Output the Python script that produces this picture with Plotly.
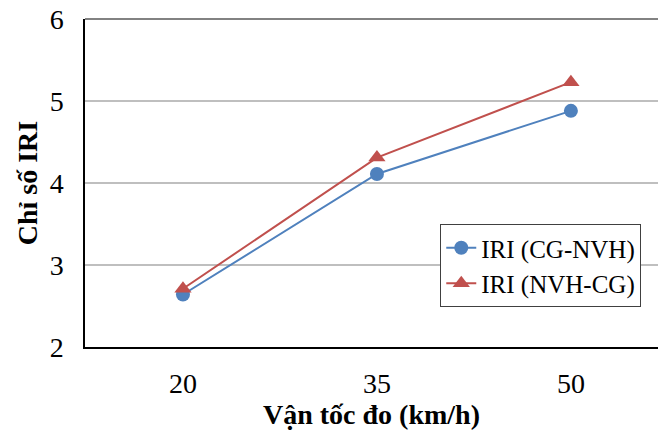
import plotly.graph_objects as go

categories = ["20", "35", "50"]
iri_cg_nvh = [2.64, 4.11, 4.88]
iri_nvh_cg = [2.71, 4.31, 5.23]
y_ticks = [2, 3, 4, 5, 6]

xs = list(range(len(categories)))
FONT = "Liberation Serif"

fig = go.Figure()
fig.add_trace(go.Scatter(
    x=xs, y=iri_cg_nvh, mode="lines+markers", name="IRI (CG-NVH)",
    line=dict(color="#4F81BD", width=2),
    marker=dict(symbol="circle", size=14, color="#4F81BD"),
))
fig.add_trace(go.Scatter(
    x=xs, y=iri_nvh_cg, mode="lines+markers", name="IRI (NVH-CG)",
    line=dict(color="#C0504D", width=2),
    marker=dict(symbol="triangle-up", size=15, color="#C0504D"),
))

fig.update_layout(
    width=658, height=433,
    margin=dict(l=85, r=0, t=19, b=86),
    plot_bgcolor="white", paper_bgcolor="white",
    font=dict(family=FONT, size=26, color="black"),
    showlegend=True,
    legend=dict(
        x=0.62, y=0.375, xanchor="left", yanchor="top",
        bordercolor="#404040", borderwidth=1, bgcolor="white",
        font=dict(family=FONT, size=25, color="black"),
        tracegroupgap=0, itemwidth=30,
    ),
)
fig.update_xaxes(
    range=[-0.505, 2.449], tickvals=xs, ticktext=categories,
    tickfont=dict(family=FONT, size=28),
    showgrid=False, zeroline=False, showline=True, linecolor="black", linewidth=1.5,
    ticks="", ticklabelstandoff=11,
    title=dict(text="<b>Vận tốc đo (km/h)</b>", font=dict(family=FONT, size=28), standoff=3),
)
fig.update_yaxes(
    range=[2, 6], tickvals=y_ticks, showgrid=True, gridcolor="#BFBFBF", gridwidth=1.5,
    tickfont=dict(family=FONT, size=28),
    zeroline=False, showline=True, linecolor="black", linewidth=1.5,
    ticks="", ticklabelstandoff=14,
    title=dict(text="<b>Chỉ số IRI</b>", font=dict(family=FONT, size=28), standoff=4),
)
fig.add_shape(type="line", xref="paper", yref="paper", x0=0, x1=1, y0=1, y1=1,
              line=dict(color="#595959", width=1.5))
fig.write_html("out.html")
